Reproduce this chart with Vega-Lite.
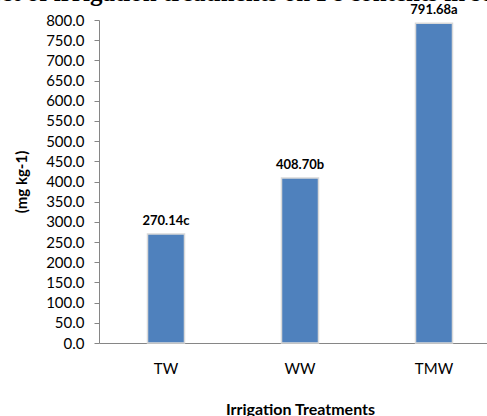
{
  "$schema": "https://vega.github.io/schema/vega-lite/v6.json",
  "autosize": "none",
  "width": 402,
  "height": 323,
  "padding": {"left": 99, "top": 20, "right": 0, "bottom": 73},
  "background": "white",
  "title": {
    "text": "Effect of irrigation treatments on Fe contents in soil",
    "font": "Liberation Serif",
    "fontSize": 25,
    "fontWeight": "bold",
    "color": "black",
    "anchor": "start",
    "dx": -58,
    "dy": 4,
    "offset": 2
  },
  "data": {
    "values": [
      {"treatment": "TW", "fe": 270.14, "label": "270.14c"},
      {"treatment": "WW", "fe": 408.70, "label": "408.70b"},
      {"treatment": "TMW", "fe": 791.68, "label": "791.68a"}
    ]
  },
  "config": {
    "view": {"stroke": null},
    "axis": {"grid": false, "domainColor": "#868686", "tickColor": "#868686", "labelColor": "black", "titleColor": "black", "labelFont": "Lato", "titleFont": "Lato"}
  },
  "encoding": {
    "x": {
      "field": "treatment",
      "type": "nominal",
      "sort": ["TW", "WW", "TMW"],
      "scale": {"paddingInner": 0.724, "paddingOuter": 0.362},
      "axis": {"title": "Irrigation Treatments", "labelAngle": 0, "ticks": false, "labelPadding": 18, "labelFontSize": 15, "titleFontSize": 16, "titleFontWeight": "bold", "titlePadding": 25}
    },
    "y": {
      "field": "fe",
      "type": "quantitative",
      "scale": {"domain": [0, 800], "nice": false},
      "axis": {"title": "(mg kg-1)", "values": [0,50,100,150,200,250,300,350,400,450,500,550,600,650,700,750,800], "format": ".1f", "tickSize": 5, "labelPadding": 10, "labelFontSize": 15, "titleFontSize": 15, "titleFontWeight": "bold", "titlePadding": 16}
    }
  },
  "layer": [
    {
      "mark": {"type": "bar", "color": "#4F81BD", "stroke": "#d9d9d9", "strokeWidth": 1.5}
    },
    {
      "mark": {"type": "text", "baseline": "bottom", "dy": -6, "font": "Lato", "fontSize": 13, "fontWeight": "bold", "color": "black"},
      "encoding": {"text": {"field": "label"}}
    }
  ]
}
